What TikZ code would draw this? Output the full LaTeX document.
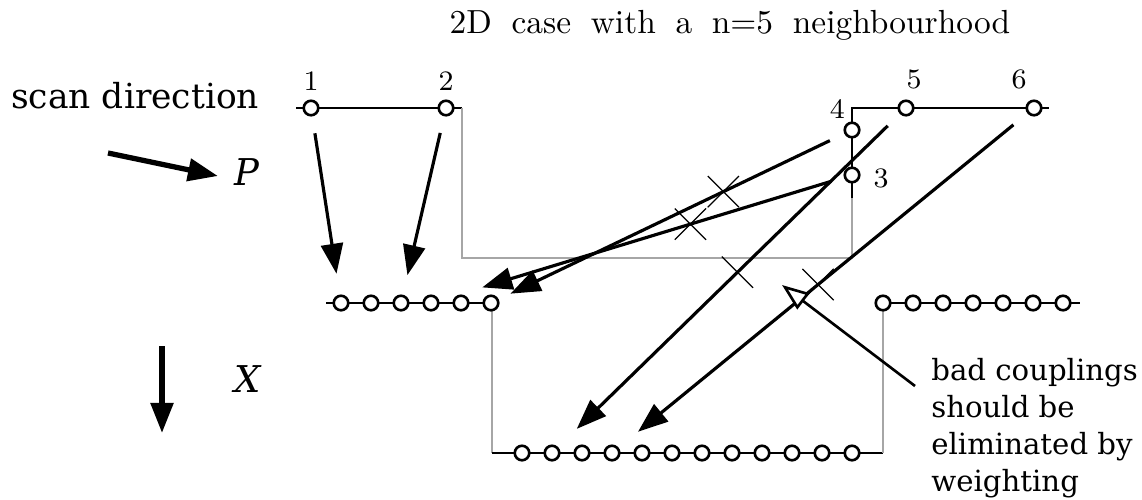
\documentclass[tikz,border=0pt]{standalone}
\usepackage{fontspec}
\newfontfamily\schoolfont{DejaVu Serif}
\usetikzlibrary{arrows.meta, shapes.misc}

\begin{document}
\begin{tikzpicture}[x=0.01cm, y=-0.01cm, line width=0.75pt,
  pix/.style={circle, draw, fill=white, inner sep=0pt, minimum size=1.45mm},
  num/.style={font=\fontsize{8}{9}\selectfont},
  scanline/.style={draw=black!35},
  coupling/.style={-{Triangle[length=3mm, width=2.2mm]}, line width=0.9pt},
  badmark/.style={cross out, draw, minimum size=3mm, inner sep=0pt, line width=0.35pt},
  legendarrow/.style={-{Triangle[length=3mm, width=2.2mm]}, line width=1.5pt}]
  \useasboundingbox (0,0) rectangle (1142,500);

  % title and legend
  \node (title) at (730,25) {\fontsize{9.5}{11}\selectfont\spaceskip=5.6pt 2D case with a n=5 neighbourhood};
  \node[anchor=base west, inner sep=0pt] (scan) at (10,108) {\schoolfont\fontsize{9.8}{11}\selectfont scan direction};
  \node (P) at (247,172) {\schoolfont\itshape\fontsize{10.5}{12}\selectfont P};
  \node (X) at (248,379) {\schoolfont\itshape\fontsize{10.5}{12}\selectfont X};
  \coordinate (pfrom) at (108,153);
  \coordinate (pto) at (218,176);
  \coordinate (xfrom) at (162,346);
  \coordinate (xto) at (162,433);
  \draw[legendarrow] (pfrom) -- (pto);
  \draw[legendarrow] (xfrom) -- (xto);

  % scan lines (black inside the neighbourhood, grey where the scan returns)
  \draw (296,108) -- (462,108);
  \draw[scanline] (462,108) -- (462,258) -- (852,258) -- (852,198);
  \draw (852,198) -- (852,108) -- (1049,108);
  \draw (326,303) -- (492,303);
  \draw[scanline] (492,303) -- (492,453);
  \draw (492,453) -- (883,453);
  \draw[scanline] (883,453) -- (883,303);
  \draw (883,303) -- (1080,303);

  % pixels of the first scan
  \node[pix, label={[num, yshift=-0.04cm]above:1}] (p1) at (311,108) {};
  \node[pix, label={[num, yshift=-0.04cm]above:2}] (p2) at (446,108) {};
  \node[pix, label={[num, yshift=-0.03cm]right:3}] (p3) at (852,175) {};
  \node[pix, label={[num, xshift=0.12cm, yshift=-0.08cm]above left:4}] (p4) at (852,130) {};
  \node[pix, label={[num, xshift=0.08cm, yshift=-0.03cm]above:5}] (p5) at (906,108) {};
  \node[pix, label={[num, xshift=-0.15cm, yshift=-0.03cm]above:6}] (p6) at (1034,108) {};

  % pixels of the second scan
  \foreach \i in {1,...,6}
    \node[pix] (m\i) at ({311+30*\i},303) {};
  \foreach \i in {1,...,12}
    \node[pix] (b\i) at ({492+30*\i},453) {};
  \foreach \i in {1,...,7}
    \node[pix] (r\i) at ({853+30*\i},303) {};

  % couplings
  \draw[coupling, shorten <=0.17cm, shorten >=0.21cm] (p1) -- (m1);
  \draw[coupling, shorten <=0.17cm, shorten >=0.2cm] (p2) -- (m3);
  \draw[coupling, shorten <=0.16cm, shorten >=0.13cm] (p4) -- (m6);
  \draw[coupling, shorten <=0.13cm, shorten >=0.45cm] (p3) -- (m4);
  \draw[coupling, shorten <=0.17cm, shorten >=0.26cm] (p5) -- (b2);
  \draw[coupling, shorten <=0.18cm, shorten >=0.25cm] (p6) -- (b4);

  % crossed out couplings
  \path (p4) -- (m6) node[badmark, pos=0.35] (x1) {};
  \path (p3) -- (m4) node[badmark, pos=0.379] (x2) {};
  \path (p5) -- (b2) node[badmark, pos=0.475] (x3) {};
  \path (p6) -- (b4) node[badmark, pos=0.512] (x4) {};

  % remark
  \node[anchor=north west, inner sep=0pt, align=left, font=\schoolfont\fontsize{8.3}{10.5}\selectfont] (note) at (930,357)
    {bad couplings\\should be\\eliminated by\\weighting};
  \coordinate (notefoot) at (915,386);
  \coordinate (badtip) at (782,285);
  \draw[-{Triangle[fill=white, length=2.7mm, width=2mm]}] (notefoot) -- (badtip);
\end{tikzpicture}
\end{document}
